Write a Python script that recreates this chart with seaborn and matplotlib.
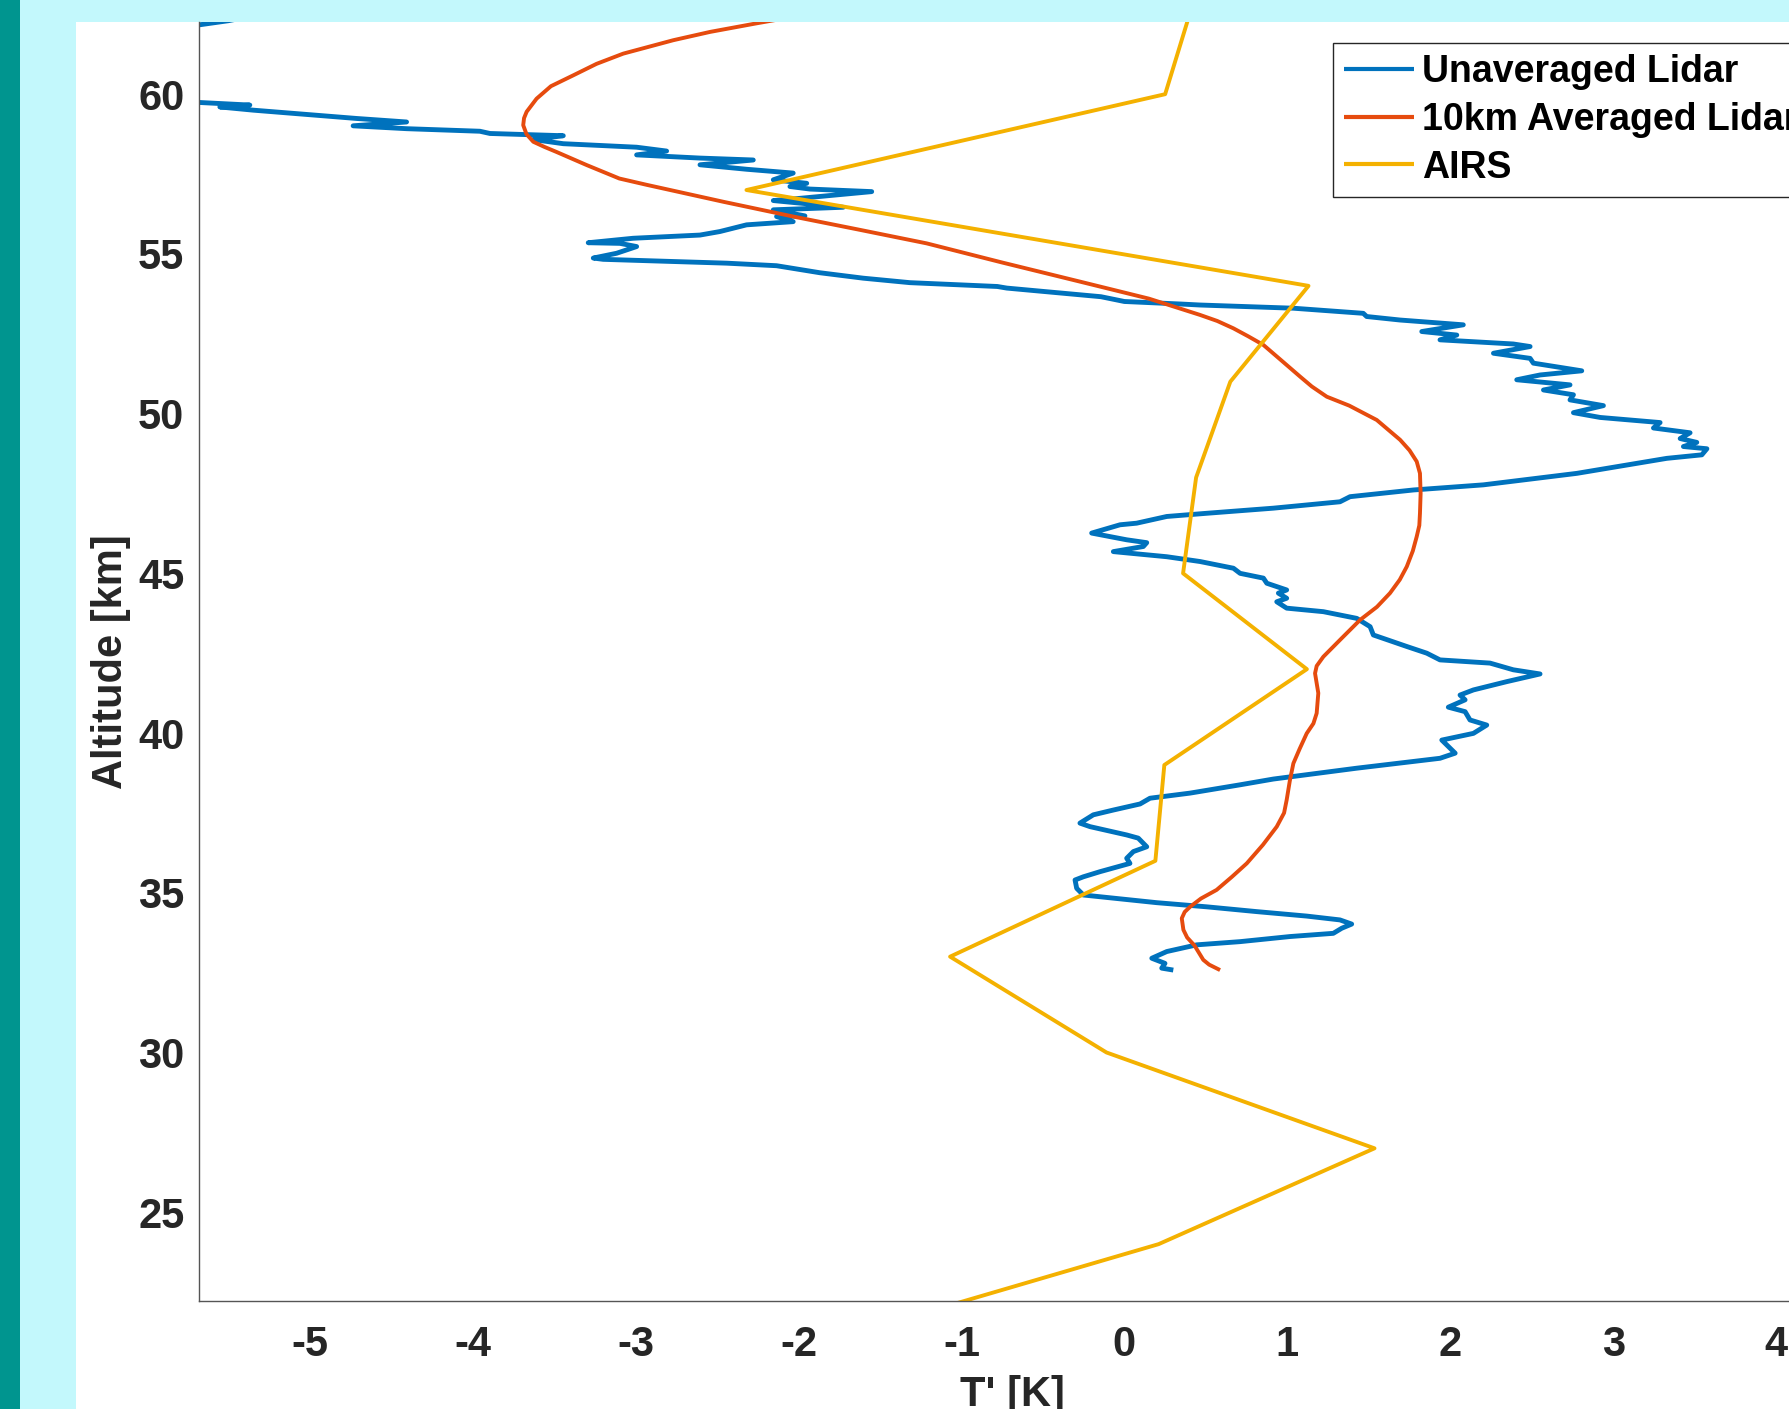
import matplotlib
matplotlib.use("Agg")
import matplotlib.pyplot as plt
import pandas as pd
import seaborn as sns
from matplotlib.patches import Rectangle

# ---- Temperature perturbation profiles: T' [K] versus altitude [km] ----
lidar_t = [0.300, 0.229, 0.249, 0.168, 0.260, 0.444, 0.710, 1.017, 1.282, 1.334,
           1.395, 1.323, 1.119, 0.812, 0.505, 0.198, -0.068, -0.252, -0.293, -0.303,
           -0.252, -0.150, 0.034, 0.014, 0.055, 0.137, 0.085, 0.014, -0.211, -0.273,
           -0.191, -0.068, 0.096, 0.157, 0.403, 0.710, 0.914, 1.426, 1.937, 2.030,
           1.948, 2.142, 2.224, 2.121, 2.091, 1.988, 2.091, 2.060, 2.142, 2.347,
           2.551, 2.387, 2.244, 1.937, 1.856, 1.733, 1.528, 1.508, 1.426, 1.221,
           0.996, 0.935, 0.996, 0.945, 0.996, 0.874, 0.853, 0.710, 0.669, 0.464,
           0.260, -0.068, 0.116, 0.137, 0.014, -0.201, -0.027, 0.075, 0.260, 0.505,
           0.914, 1.323, 1.385, 1.774, 2.203, 2.777, 3.329, 3.544, 3.575, 3.431,
           3.513, 3.411, 3.472, 3.247, 3.288, 2.920, 2.756, 2.940, 2.735, 2.756,
           2.572, 2.735, 2.408, 2.551, 2.807, 2.510, 2.490, 2.265, 2.490, 2.387,
           1.937, 2.040, 1.825, 2.080, 1.692, 1.487, 1.466, 1.037, 0.464, 0.350,
           0.000, -0.144, -0.271, -0.722, -0.780, -1.317, -1.603, -1.869, -2.135, -2.441,
           -3.199, -3.260, -3.117, -2.994, -3.096, -3.291, -3.015, -2.605, -2.483, -2.319,
           -2.033, -2.135, -1.961, -2.155, -1.726, -2.155, -1.991, -1.551, -1.930, -2.053,
           -1.950, -2.155, -2.033, -2.319, -2.605, -2.278, -2.605, -2.994, -2.810, -2.994,
           -3.444, -3.628, -3.444, -3.894, -3.956, -4.406, -4.734, -4.406, -4.713, -5.081,
           -5.347, -5.552, -5.368, -5.675, -6.300, -6.000, -5.680, -5.500, -5.200]
lidar_alt = [32.58, 32.64, 32.79, 32.95, 33.16, 33.37, 33.47, 33.63, 33.73, 33.89,
             34.02, 34.15, 34.27, 34.41, 34.56, 34.69, 34.83, 34.93, 35.14, 35.40,
             35.50, 35.66, 35.92, 36.08, 36.29, 36.44, 36.71, 36.81, 37.07, 37.18,
             37.44, 37.59, 37.78, 37.96, 38.12, 38.38, 38.56, 38.90, 39.21, 39.37,
             39.78, 39.99, 40.25, 40.41, 40.67, 40.81, 41.04, 41.19, 41.35, 41.61,
             41.85, 41.98, 42.19, 42.29, 42.50, 42.71, 43.07, 43.33, 43.59, 43.80,
             43.91, 44.11, 44.22, 44.38, 44.48, 44.69, 44.85, 45.00, 45.16, 45.37,
             45.52, 45.68, 45.84, 45.96, 46.05, 46.26, 46.52, 46.57, 46.78, 46.88,
             47.04, 47.24, 47.40, 47.61, 47.77, 48.13, 48.60, 48.71, 48.90, 48.97,
             49.10, 49.22, 49.40, 49.55, 49.72, 49.88, 50.03, 50.25, 50.43, 50.59,
             50.74, 50.90, 51.06, 51.21, 51.34, 51.58, 51.73, 51.89, 52.10, 52.18,
             52.31, 52.46, 52.57, 52.78, 52.93, 53.04, 53.14, 53.30, 53.40, 53.43,
             53.51, 53.66, 53.72, 53.93, 53.98, 54.10, 54.24, 54.41, 54.63, 54.71,
             54.83, 54.87, 55.02, 55.23, 55.33, 55.35, 55.49, 55.59, 55.70, 55.91,
             56.01, 56.17, 56.19, 56.38, 56.46, 56.67, 56.74, 56.95, 57.03, 57.11,
             57.21, 57.32, 57.53, 57.65, 57.79, 57.94, 58.00, 58.10, 58.22, 58.34,
             58.45, 58.58, 58.70, 58.77, 58.84, 58.92, 59.01, 59.13, 59.24, 59.39,
             59.50, 59.60, 59.66, 59.74, 60.30, 61.50, 62.17, 62.30, 62.60]

avg_t = [0.587, 0.520, 0.484, 0.430, 0.385, 0.362, 0.352, 0.370, 0.403, 0.470,
         0.566, 0.660, 0.751, 0.850, 0.935, 0.980, 0.996, 1.015, 1.037, 1.075,
         1.119, 1.160, 1.180, 1.190, 1.170, 1.180, 1.221, 1.330, 1.446, 1.550,
         1.630, 1.690, 1.733, 1.770, 1.794, 1.810, 1.814, 1.818, 1.814, 1.794,
         1.750, 1.692, 1.549, 1.380, 1.242, 1.150, 1.078, 0.960, 0.853, 0.760,
         0.669, 0.570, 0.464, 0.150, -0.271, -0.750, -1.214, -1.640, -2.033, -2.460,
         -2.930, -3.100, -3.300, -3.485, -3.560, -3.628, -3.670, -3.690, -3.685, -3.669,
         -3.608, -3.520, -3.383, -3.240, -3.076, -2.769, -2.543, -2.256, -2.000]
avg_alt = [32.58, 32.75, 32.90, 33.35, 33.60, 33.84, 34.20, 34.40, 34.56, 34.82,
           35.09, 35.50, 35.92, 36.50, 37.07, 37.50, 37.91, 38.50, 39.05, 39.50,
           39.99, 40.30, 40.62, 41.25, 41.87, 42.10, 42.39, 42.95, 43.54, 43.95,
           44.38, 44.80, 45.21, 45.70, 46.15, 46.50, 46.88, 47.50, 48.13, 48.50,
           48.85, 49.18, 49.80, 50.25, 50.53, 50.85, 51.16, 51.68, 52.15, 52.42,
           52.67, 52.90, 53.09, 53.60, 54.13, 54.73, 55.33, 55.77, 56.17, 56.63,
           57.16, 57.36, 57.78, 58.19, 58.35, 58.51, 58.75, 59.03, 59.25, 59.45,
           59.86, 60.25, 60.59, 60.95, 61.27, 61.69, 61.95, 62.22, 62.45]

airs_t = [-1.80, 0.21, 1.535, -0.11, -1.07, 0.19, 0.245, 1.12, 0.36, 0.44,
          0.65, 1.13, -2.32, 0.25, 0.43]
airs_alt = [21, 24, 27, 30, 33, 36, 39, 42, 45, 48, 51, 54, 57, 60, 63]

series_names = ["Unaveraged Lidar", "10km Averaged Lidar", "AIRS"]
series_t = [lidar_t, avg_t, airs_t]
series_alt = [lidar_alt, avg_alt, airs_alt]
series_colors = ["#0072BD", "#E64B0E", "#F4B100"]
series_widths = [3.5, 2.8, 2.8]

x_ticks = [-5, -4, -3, -2, -1, 0, 1, 2, 3, 4]
y_ticks = [25, 30, 35, 40, 45, 50, 55, 60]

# ---- Style ----
sns.set_theme(style="white")
plt.rcParams["font.family"] = ["Liberation Sans", "DejaVu Sans"]
plt.rcParams["font.weight"] = "bold"
plt.rcParams["axes.labelweight"] = "bold"
plt.rcParams["lines.solid_joinstyle"] = "round"
plt.rcParams["lines.solid_capstyle"] = "butt"

W, H = 1789, 1409
fig = plt.figure(figsize=(W / 100, H / 100), dpi=100, facecolor="white")

# slide backdrop: teal strip, light cyan margin and top band
teal, cyan = "#00958F", "#C3F8FC"
fig.add_artist(Rectangle((0, 0), 20 / W, 1, transform=fig.transFigure,
                         facecolor=teal, edgecolor="none", zorder=0))
fig.add_artist(Rectangle((20 / W, 0), 56 / W, 1, transform=fig.transFigure,
                         facecolor=cyan, edgecolor="none", zorder=0))
fig.add_artist(Rectangle((20 / W, 1 - 22 / H), 1, 22 / H, transform=fig.transFigure,
                         facecolor=cyan, edgecolor="none", zorder=0))

ax_left, ax_right, ax_top, ax_bottom = 199, 1825, 22, 1301
ax = fig.add_axes([ax_left / W, 1 - ax_bottom / H,
                   (ax_right - ax_left) / W, (ax_bottom - ax_top) / H])
ax.set_facecolor("white")

for name, t, alt, c, lw in zip(series_names, series_t, series_alt,
                               series_colors, series_widths):
    df = pd.DataFrame({"T": t, "alt": alt})
    sns.lineplot(data=df, x="T", y="alt", sort=False, estimator=None,
                 color=c, linewidth=lw, label=name, ax=ax)

ax.set_xlim(-5.68, 4.30)
ax.set_ylim(22.22, 62.26)
ax.set_xticks(x_ticks)
ax.set_yticks(y_ticks)
ax.set_xticklabels([str(v) for v in x_ticks])
ax.set_yticklabels([str(v) for v in y_ticks])

ink = "#262626"
ax.tick_params(axis="both", direction="in", length=12, width=0.8, color=ink,
               labelsize=30, labelcolor=ink)
ax.tick_params(axis="x", pad=17)
ax.tick_params(axis="y", pad=10.5)
for lab in ax.get_xticklabels() + ax.get_yticklabels():
    lab.set_fontweight("bold")

for side in ("top", "right"):
    ax.spines[side].set_visible(False)
for side in ("left", "bottom"):
    ax.spines[side].set_color("#555555")
    ax.spines[side].set_linewidth(1.0)

ax.set_xlabel("T' [K]", fontsize=30, fontweight="bold", color=ink, va="center")
ax.set_ylabel("Altitude [km]", fontsize=30, fontweight="bold", color=ink, va="center")
ax.xaxis.set_label_coords(0.5, (ax_bottom - 1395) / (ax_bottom - ax_top))
ax.yaxis.set_label_coords((110.7 - ax_left) / (ax_right - ax_left), 0.5)

leg = ax.legend(loc="upper left", bbox_to_anchor=(1333 / W, 1 - 43 / H),
                bbox_transform=fig.transFigure, prop={"size": 27, "weight": "bold"},
                frameon=True, fancybox=False, framealpha=1, edgecolor=ink,
                handlelength=1.87, handletextpad=0.2, borderpad=0.3,
                labelspacing=0.31, borderaxespad=0)
leg.get_frame().set_linewidth(1.0)
for line in leg.get_lines():
    line.set_linewidth(3.0)
for txt in leg.get_texts():
    txt.set_color("black")

fig.savefig("out.png", dpi=100, facecolor=fig.get_facecolor())
